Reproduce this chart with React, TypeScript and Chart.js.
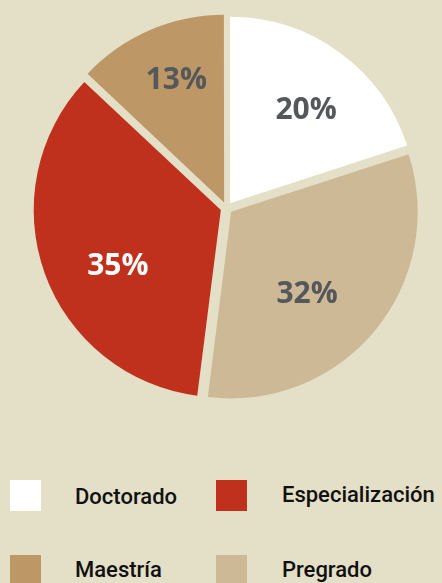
import React, { useEffect, useRef } from "react";
import { Chart, registerables } from "chart.js";

Chart.register(...registerables);

const categories = ["Doctorado", "Pregrado", "Especialización", "Maestría"];
const values = [20, 32, 35, 13];
const sliceColors = ["#ffffff", "#cdb995", "#bf311c", "#bd9766"];
const labelColors = ["#55585b", "#55585b", "#ffffff", "#55585b"];
const legendOrder = ["Doctorado", "Especialización", "Maestría", "Pregrado"];

const BG = "#e4dfc7";
const OFFSET = 24; // Chart.js translates slices by offset/4

// small placement tweaks for the percentage labels (angle in degrees, radius fraction)
const labelTweak = [
  { da: 3, rf: 0.65 },
  { da: 7.5, rf: 0.6 },
  { da: -8.7, rf: 0.63 },
  { da: 2.2, rf: 0.71 },
];

const labelPlugin = {
  id: "pctLabels",
  afterDatasetsDraw(chart: any) {
    const ctx = chart.ctx;
    const meta = chart.getDatasetMeta(0);
    const ds = chart.data.datasets[0];
    ctx.save();
    ctx.font = "bold 30px 'Open Sans', sans-serif";
    ctx.textAlign = "center";
    ctx.textBaseline = "middle";
    meta.data.forEach((arc: any, i: number) => {
      const { x, y, startAngle, endAngle, outerRadius } = arc.getProps(
        ["x", "y", "startAngle", "endAngle", "outerRadius"],
        true
      );
      const mid = (startAngle + endAngle) / 2;
      const off = OFFSET / 4;
      const ox = x + Math.cos(mid) * off;
      const oy = y + Math.sin(mid) * off;
      const t = labelTweak[i];
      const a = mid + (t.da * Math.PI) / 180;
      const r = outerRadius * t.rf;
      ctx.fillStyle = labelColors[i];
      ctx.fillText(ds.data[i] + "%", ox + Math.cos(a) * r, oy + Math.sin(a) * r + 1);
    });
    ctx.restore();
  },
};

export default function App() {
  const ref = useRef<HTMLCanvasElement>(null);
  useEffect(() => {
    document.body.style.margin = "0";
    document.body.style.background = BG;
    const chart = new Chart(ref.current!, {
      type: "pie",
      data: {
        labels: categories,
        datasets: [
          {
            data: values,
            backgroundColor: sliceColors,
            borderWidth: 0,
            offset: OFFSET,
            hoverOffset: OFFSET,
          },
        ],
      },
      options: {
        responsive: false,
        animation: false,
        layout: { padding: { left: 28.5, right: 17.5, top: 10, bottom: 24 } },
        plugins: { legend: { display: false }, tooltip: { enabled: false } },
      },
      plugins: [labelPlugin],
    });
    return () => chart.destroy();
  }, []);

  const colorOf = (name: string) => sliceColors[categories.indexOf(name)];
  const pos = [
    { bx: 10, by: 480, tx: 75, ty: 497 },
    { bx: 216, by: 480, tx: 282, ty: 495 },
    { bx: 10, by: 555, tx: 75, ty: 570 },
    { bx: 216, by: 555, tx: 282, ty: 570 },
  ];

  return (
    <div style={{ position: "relative", width: 442, height: 583, background: BG, overflow: "hidden" }}>
      <canvas ref={ref} width={442} height={430} style={{ display: "block" }} />
      {legendOrder.map((name, i) => (
        <React.Fragment key={name}>
          <div
            style={{
              position: "absolute",
              left: pos[i].bx,
              top: pos[i].by,
              width: 31,
              height: 31,
              background: colorOf(name),
            }}
          />
          <div
            style={{
              position: "absolute",
              left: pos[i].tx,
              top: pos[i].ty,
              transform: "translateY(-50%)",
              font: "500 22px Roboto, sans-serif",
              color: "#111111",
              lineHeight: "24px",
              whiteSpace: "nowrap",
            }}
          >
            {name}
          </div>
        </React.Fragment>
      ))}
    </div>
  );
}
